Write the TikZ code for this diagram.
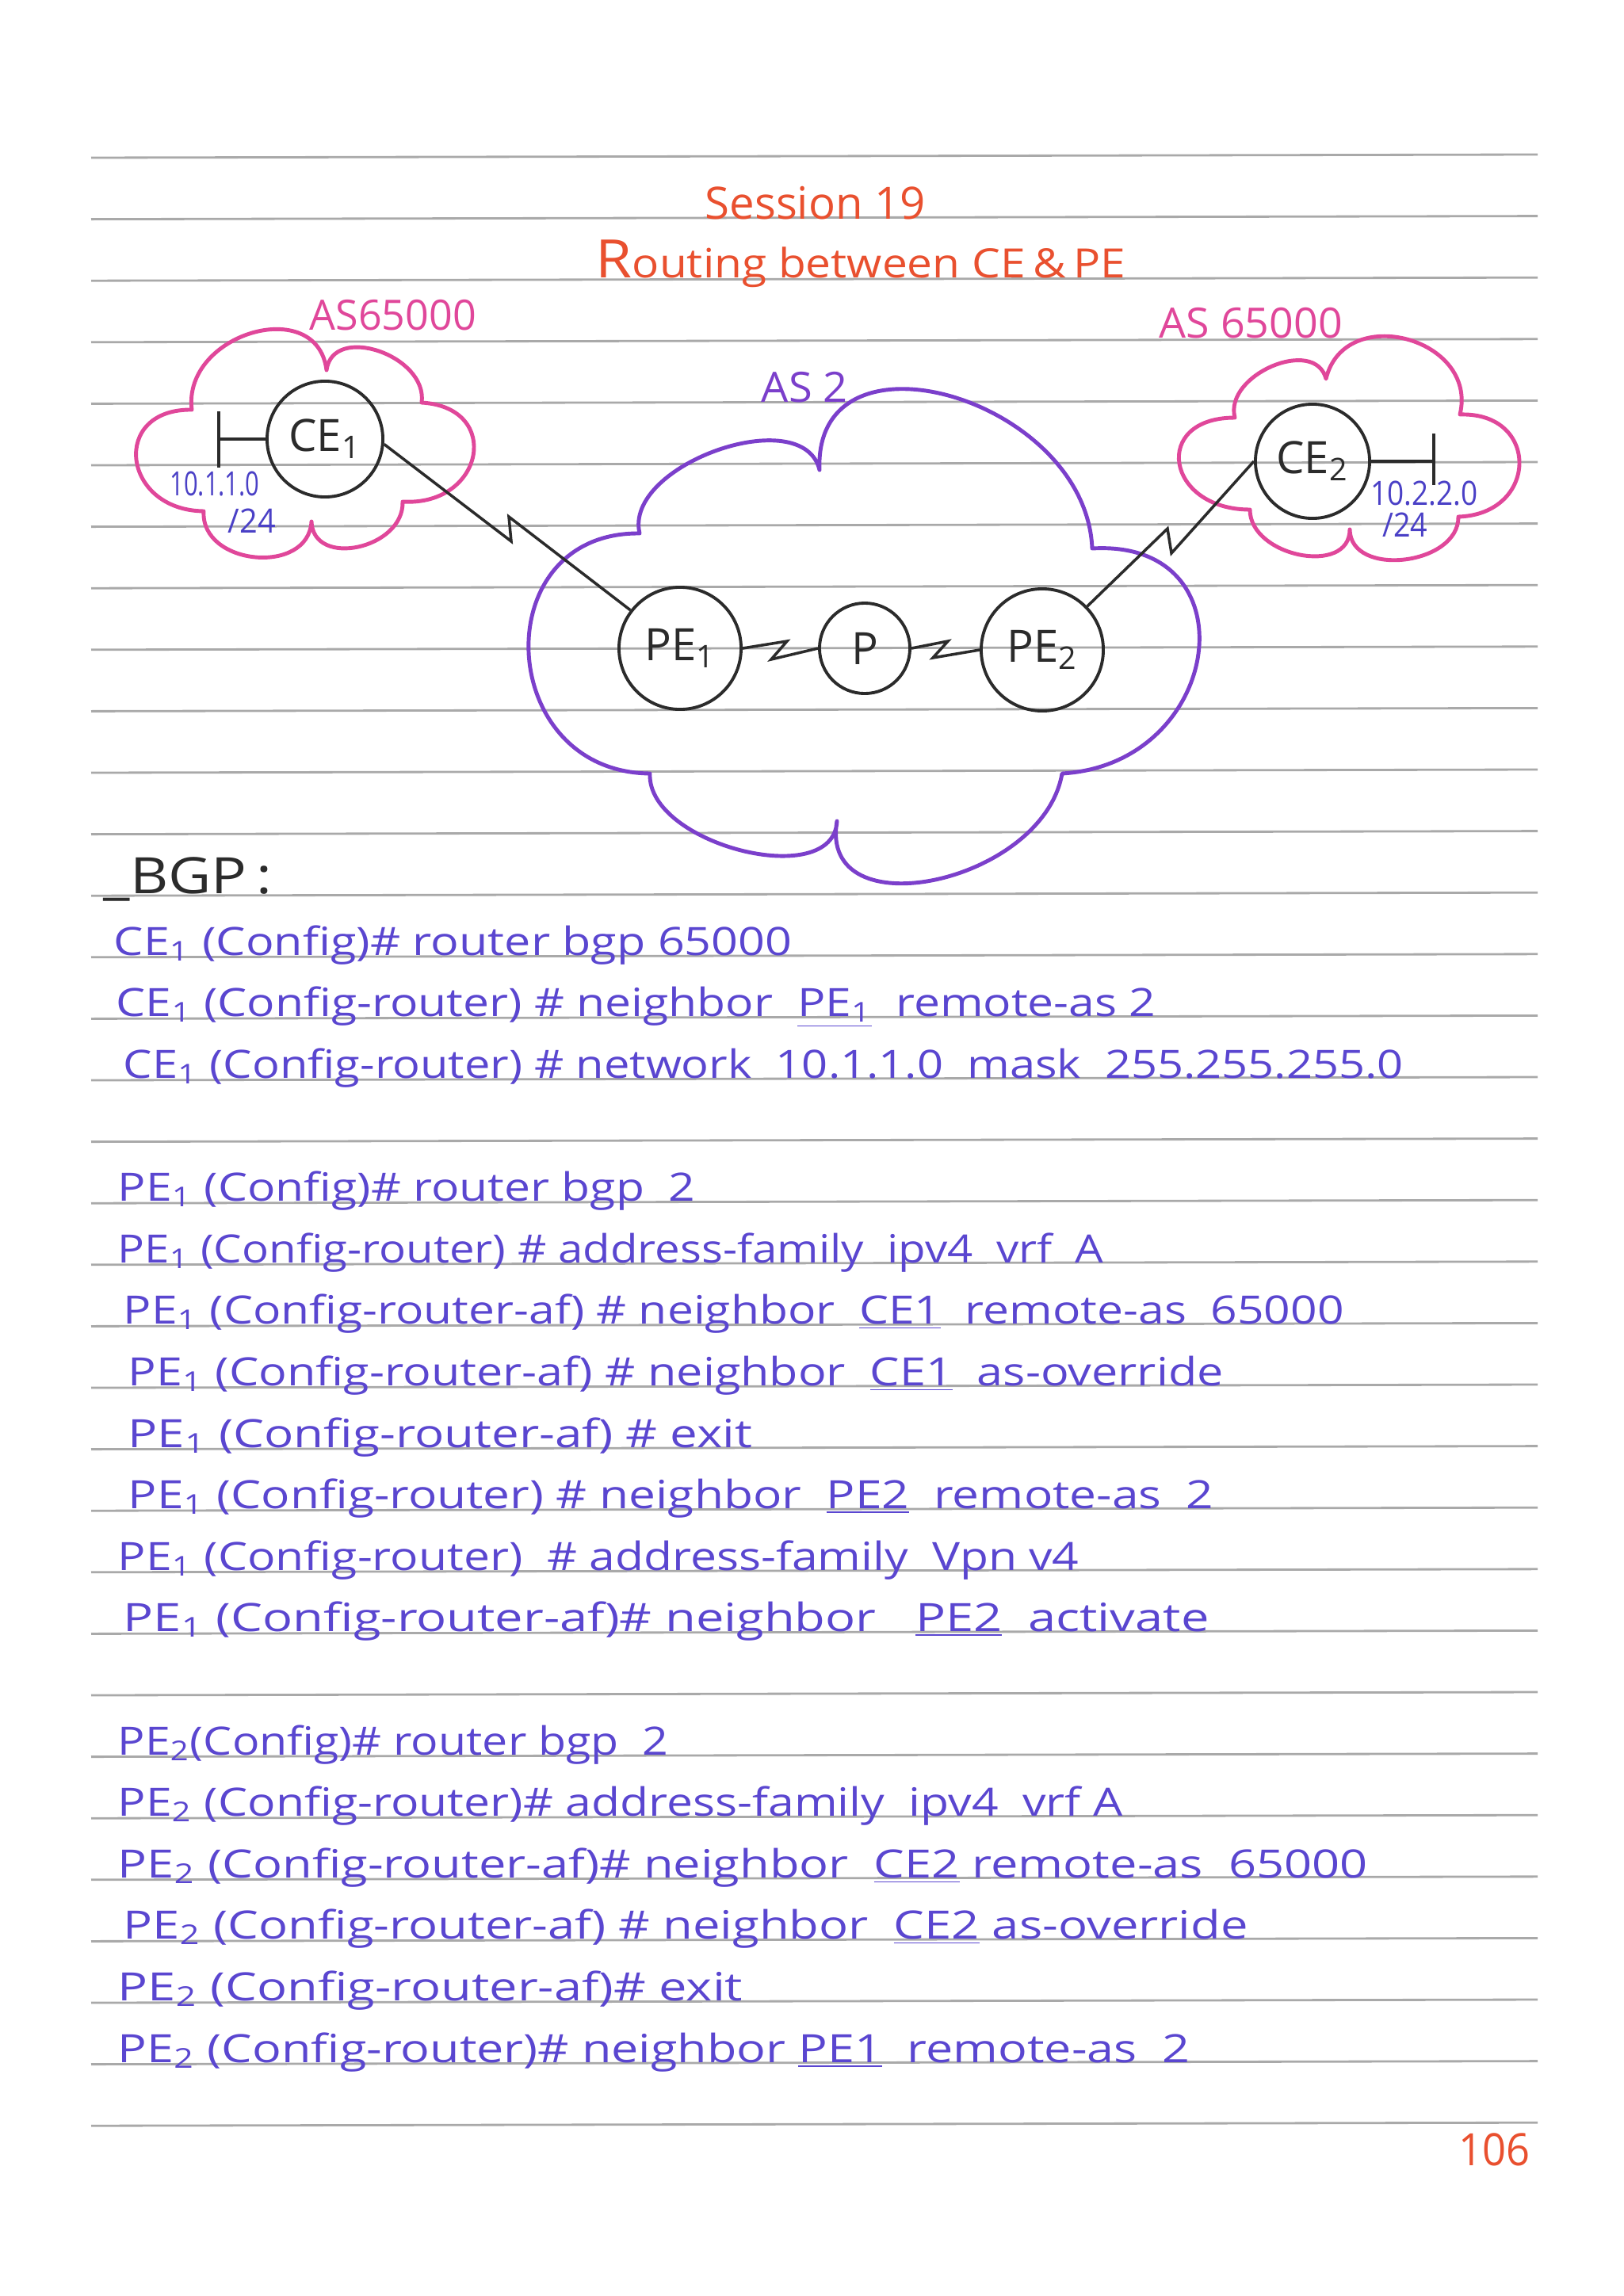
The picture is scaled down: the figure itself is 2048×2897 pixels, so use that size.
\documentclass[tikz,border=0pt]{standalone}
\usepackage{fontspec}
\setmainfont{Open Sans}
\usepackage{graphicx}
\usetikzlibrary{calc}
\definecolor{rulegray}{HTML}{A9A9A9}
\definecolor{titlered}{HTML}{E9502F}
\definecolor{pinkc}{HTML}{E0479A}
\definecolor{purplec}{HTML}{7B3FCB}
\definecolor{codeblue}{HTML}{5A46D0}
\definecolor{ipblue}{HTML}{4A40C6}
\definecolor{ink}{HTML}{2B2B2B}
\newcommand\fitw[2]{\resizebox{#1}{\height}{#2}}
\begin{document}
\begin{tikzpicture}[x=0.01cm,y=-0.01cm,
  cb/.style n args={3}{insert path={.. controls ($#1+1.3333*($#2-0.5*#1-0.5*#3$)$) and ($#3+1.3333*($#2-0.5*#1-0.5*#3$)$) .. #3}},
  pinkcloud/.style={draw=pinkc, line width=1.4pt, line join=round},
  purplecloud/.style={draw=purplec, line width=1.4pt, line join=round},
  router/.style={circle, draw=ink, line width=1.1pt, inner sep=0pt, text=ink, font=\fontsize{16}{18}\selectfont},
  link/.style={draw=ink, line width=1pt, line join=miter},
  codeline/.style={anchor=base west, inner sep=0pt, text=codeblue, font=\fontsize{14}{16}\selectfont},
  aslabel/.style={anchor=base west, inner sep=0pt, text=pinkc, font=\fontsize{15}{17}\selectfont},
  iplabel/.style={inner sep=0pt, text=ipblue, font=\fontsize{12}{14}\selectfont},
  titletext/.style={anchor=base west, inner sep=0pt, text=titlered}
]
\fill[white] (0,0) rectangle (2048,2897);
\path[use as bounding box] (0,0) rectangle (2048,2897);

% ruled lines
\foreach \k in {0,...,32}{
  \draw[rulegray, line width=0.8pt] (115,{199+77.6*\k}) -- (1940,{195+77.6*\k});
}

% title
\node[titletext, font=\fontsize{16}{18}\selectfont] (title1) at (889,276) {\fitw{2.78cm}{Session 19}};
\node[titletext, font=\fontsize{14.5}{16}\selectfont] (title2) at (751,350) {\fitw{6.68cm}{{\fontsize{19}{19}\selectfont R}outing between CE\,\&\,PE}};

% clouds
\draw[pinkcloud] (242,517) [cb={(242,517)}{(318,420)}{(412,467)}] [cb={(412,467)}{(478,443)}{(532,508)}] [cb={(532,508)}{(597,575)}{(508,633)}] [cb={(508,633)}{(452,690)}{(393,658)}] [cb={(393,658)}{(322,703)}{(257,645)}] [cb={(257,645)}{(172,580)}{(242,517)}] -- cycle;
\draw[pinkcloud] (1558,527) [cb={(1558,527)}{(1605,462)}{(1673,478)}] [cb={(1673,478)}{(1775,428)}{(1842,523)}] [cb={(1842,523)}{(1917,585)}{(1840,652)}] [cb={(1840,652)}{(1772,706)}{(1703,668)}] [cb={(1703,668)}{(1640,700)}{(1577,643)}] [cb={(1577,643)}{(1488,585)}{(1558,527)}] -- cycle;
\draw[purplecloud] (807,673) [cb={(807,673)}{(905,568)}{(1034,593)}] [cb={(1034,593)}{(1200,500)}{(1378,692)}] [cb={(1378,692)}{(1512,825)}{(1340,976)}] [cb={(1340,976)}{(1180,1110)}{(1056,1036)}] [cb={(1056,1036)}{(935,1073)}{(820,976)}] [cb={(820,976)}{(667,823)}{(807,673)}] -- cycle;

% cloud labels
\node[aslabel] (as1) at (390,416) {\fitw{2.10cm}{AS65000}};
\node[aslabel] (as2) at (1462,426) {\fitw{2.31cm}{AS 65000}};
\node[aslabel, text=purplec] (as3) at (960,507) {\fitw{1.09cm}{AS 2}};

% routers
\node[router, minimum size=1.46cm] (CE1) at (410,554) {CE\textsubscript{1}};
\node[router, minimum size=1.54cm] (PE1) at (858,818) {PE\textsubscript{1}};
\node[router, minimum size=1.14cm] (P) at (1091,818) {P};
\node[router, minimum size=1.54cm] (PE2) at (1315,820) {PE\textsubscript{2}};
\node[router, minimum size=1.44cm] (CE2) at (1656,582) {CE\textsubscript{2}};

% serial links
\coordinate (a1) at (645,683); \coordinate (a2) at (642,652);
\draw[link] (CE1.-5) -- (a1) -- (a2) -- (PE1);
\coordinate (b1) at (1478,698); \coordinate (b2) at (1473,667);
\draw[link] (CE2.west) -- (b1) -- (b2) -- (PE2);
\coordinate (z1) at (993,809); \coordinate (z2) at (973,832);
\draw[link] (PE1.east) -- (z1) -- (z2) -- (P.west);
\coordinate (z3) at (1196,809); \coordinate (z4) at (1177,830);
\draw[link] (P.east) -- (z3) -- (z4) -- (PE2.west);

% LAN stubs
\coordinate (s1) at (276,554); \coordinate (s1t) at (276,519); \coordinate (s1b) at (276,590);
\draw[link] (CE1.west) -- (s1); \draw[link] (s1t) -- (s1b);
\coordinate (s2) at (1809,582); \coordinate (s2t) at (1809,547); \coordinate (s2b) at (1809,612);
\draw[link] (CE2.east) -- (s2); \draw[link] (s2t) -- (s2b);

\node[iplabel] (ip1) at (271,610) {\fitw{1.13cm}{10.1.1.0}};
\node[iplabel] (ip1m) at (318,657) {\fitw{0.60cm}{/24}};
\node[iplabel] (ip2) at (1797,622) {\fitw{1.35cm}{10.2.2.0}};
\node[iplabel] (ip2m) at (1773,662) {\fitw{0.57cm}{/24}};

% BGP heading
\node[anchor=base west, inner sep=0pt, text=ink, font=\fontsize{18}{20}\selectfont] (bgp) at (130,1127) {\fitw{2.13cm}{\_BGP\,:}};

% CE1 commands
\node[codeline] (c1) at (143,1205) {\fitw{8.55cm}{CE\textsubscript{1} (Config)\# router bgp 65000}};
\node[codeline] (c2) at (146,1282) {\fitw{13.11cm}{CE\textsubscript{1} (Config-router) \# neighbor \ \underline{PE\textsubscript{1}} \ remote-as 2}};
\node[codeline] (c3) at (155,1360) {\fitw{16.14cm}{CE\textsubscript{1} (Config-router) \# network \ 10.1.1.0 \ mask \ 255.255.255.0}};

% PE1 commands
\node[codeline] (p1) at (148,1515) {\fitw{7.28cm}{PE\textsubscript{1} (Config)\# router bgp \ 2}};
\node[codeline] (p2) at (148,1593) {\fitw{12.43cm}{PE\textsubscript{1} (Config-router) \# address-family \ ipv4 \ vrf \ A}};
\node[codeline] (p3) at (155,1670) {\fitw{15.39cm}{PE\textsubscript{1} (Config-router-af) \# neighbor \ \underline{CE1} \ remote-as \ 65000}};
\node[codeline] (p4) at (161,1748) {\fitw{13.81cm}{PE\textsubscript{1} (Config-router-af) \# neighbor \ \underline{CE1} \ as-override}};
\node[codeline] (p5) at (161,1826) {\fitw{7.87cm}{PE\textsubscript{1} (Config-router-af) \# exit}};
\node[codeline] (p6) at (161,1903) {\fitw{13.69cm}{PE\textsubscript{1} (Config-router) \# neighbor \ \underline{PE2} \ remote-as \ 2}};
\node[codeline] (p7) at (148,1981) {\fitw{12.12cm}{PE\textsubscript{1} (Config-router) \ \# address-family \ Vpn v4}};
\node[codeline] (p8) at (155,2058) {\fitw{13.69cm}{PE\textsubscript{1} (Config-router-af)\# neighbor \ \ \underline{PE2} \ activate}};

% PE2 commands
\node[codeline] (q1) at (148,2214) {\fitw{6.94cm}{PE\textsubscript{2}(Config)\# router bgp \ 2}};
\node[codeline] (q2) at (148,2291) {\fitw{12.67cm}{PE\textsubscript{2} (Config-router)\# address-family \ ipv4 \ vrf A}};
\node[codeline] (q3) at (148,2369) {\fitw{15.76cm}{PE\textsubscript{2} (Config-router-af)\# neighbor \ \underline{CE2} remote-as \ 65000}};
\node[codeline] (q4) at (155,2446) {\fitw{14.18cm}{PE\textsubscript{2} (Config-router-af) \# neighbor \ \underline{CE2} as-override}};
\node[codeline] (q5) at (148,2524) {\fitw{7.88cm}{PE\textsubscript{2} (Config-router-af)\# exit}};
\node[codeline] (q6) at (148,2602) {\fitw{13.52cm}{PE\textsubscript{2} (Config-router)\# neighbor \underline{PE1} \ remote-as \ 2}};

% page number
\node[titletext, font=\fontsize{16}{18}\selectfont] (pageno) at (1840,2732) {\fitw{0.90cm}{106}};
\end{tikzpicture}
\end{document}
